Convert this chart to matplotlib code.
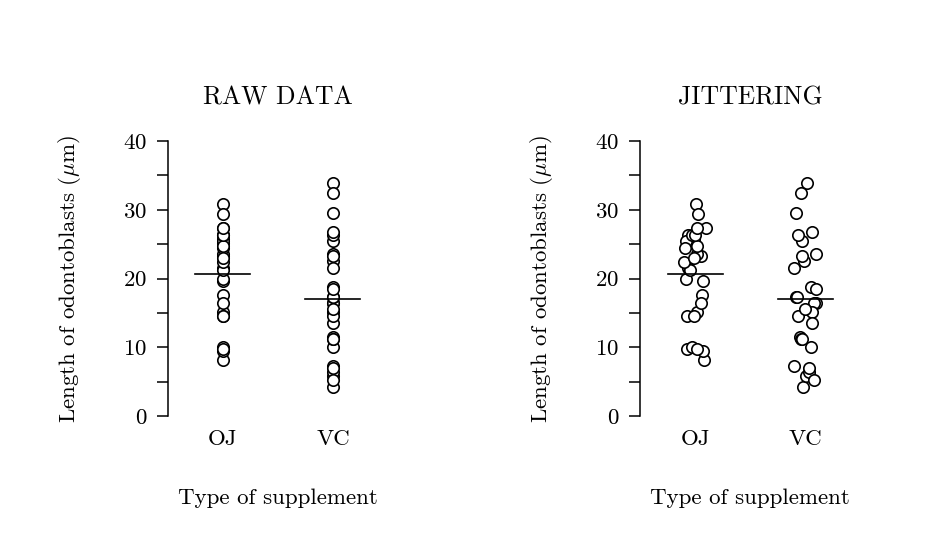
import numpy as np
import matplotlib
matplotlib.use("Agg")
import matplotlib.pyplot as plt
from matplotlib.ticker import MultipleLocator

plt.rcParams['font.family'] = 'cmr10'
plt.rcParams['mathtext.fontset'] = 'cm'
plt.rcParams['axes.formatter.use_mathtext'] = True

# ToothGrowth lengths by supplement
groups = ['OJ', 'VC']
oj_len = [15.2, 21.5, 17.6, 9.7, 14.5, 10.0, 8.2, 9.4, 16.5, 9.7,
          19.7, 23.3, 23.6, 26.4, 20.0, 25.2, 25.8, 21.2, 14.5, 27.3,
          25.5, 26.4, 22.4, 24.5, 24.8, 30.9, 26.4, 27.3, 29.4, 23.0]
vc_len = [4.2, 11.5, 7.3, 5.8, 6.4, 10.0, 11.2, 11.2, 5.2, 7.0,
          16.5, 16.5, 15.2, 17.3, 22.5, 17.3, 13.6, 14.5, 18.8, 15.5,
          23.6, 18.5, 33.9, 25.5, 26.4, 32.5, 26.7, 21.5, 23.3, 29.5]

# horizontal jitter (category units)
oj_jit = [0.02, -0.06, 0.06, -0.07, -0.07, -0.03, 0.08, 0.07, 0.05, 0.02,
          0.07, 0.05, 0.02, -0.06, -0.08, -0.04, -0.01, -0.05, -0.01, 0.10,
          -0.08, -0.03, -0.10, -0.09, 0.02, 0.01, 0.00, 0.02, 0.03, -0.01]
vc_jit = [-0.02, -0.05, -0.10, 0.01, 0.04, 0.05, -0.04, -0.03, 0.08, 0.04,
          0.10, 0.08, 0.06, -0.08, -0.01, -0.07, 0.06, -0.06, 0.05, 0.00,
          0.10, 0.10, 0.02, -0.03, -0.06, -0.04, 0.06, -0.10, -0.03, -0.08]

data = [oj_len, vc_len]
jitter = [oj_jit, vc_jit]

fig = plt.figure(figsize=(9.5, 5.57), dpi=100)
ax1 = fig.add_axes([0.1768, 0.2531, 0.2316, 0.4937])
ax2 = fig.add_axes([0.6737, 0.2531, 0.2316, 0.4937])


def draw_panel(ax, title, use_jitter):
    for i, vals in enumerate(data):
        x = np.full(len(vals), i + 1.0)
        if use_jitter:
            x = x + np.array(jitter[i])
        ax.plot(x, vals, 'o', mfc='white', mec='black', mew=1.2,
                ms=8.2, ls='none', zorder=3)
        m = np.mean(vals)
        ax.plot([i + 0.75, i + 1.25], [m, m], color='black', lw=1.2, zorder=4)

    ax.set_xlim(0.5, 2.5)
    ax.set_ylim(0, 40)
    ax.set_xticks([1, 2])
    ax.set_xticklabels(groups)
    ax.tick_params(axis='x', length=0, pad=10, labelsize=16.5)
    ax.yaxis.set_major_locator(MultipleLocator(10))
    ax.yaxis.set_minor_locator(MultipleLocator(5))
    ax.tick_params(axis='y', which='both', length=8, width=1.1,
                   direction='out', labelsize=16.5, pad=7)
    for s in ['top', 'right', 'bottom']:
        ax.spines[s].set_visible(False)
    ax.spines['left'].set_linewidth(1.1)
    ax.set_title(title, fontsize=18.5, pad=26.5)
    ax.set_xlabel('Type of supplement', fontsize=16.5, labelpad=28)
    ax.set_ylabel(r'Length of odontoblasts ($\mu$m)', fontsize=16.5, labelpad=29)


draw_panel(ax1, 'RAW DATA', False)
draw_panel(ax2, 'JITTERING', True)

fig.savefig('out.png', dpi=100)
